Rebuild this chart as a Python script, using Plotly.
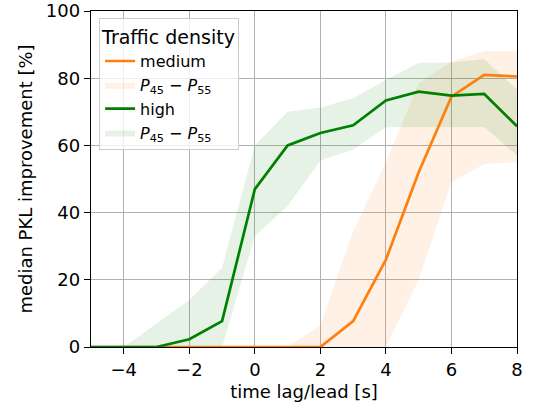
import plotly.graph_objects as go

t = [-5, -4, -3, -2, -1, 0, 1, 2, 3, 4, 5, 6, 7, 8]

medium = [0, 0, 0, 0, 0, 0, 0, 0, 7.7, 26, 52, 74.5, 81, 80.5]
medium_lo = [0, 0, 0, 0, 0, 0, 0, 0, 0, 0, 20, 49, 54.5, 55]
medium_hi = [0, 0, 0, 0, 0, 0, 0, 6.5, 34.5, 55, 78.5, 85, 88, 88]

high = [0, 0, 0, 2.3, 7.7, 47, 60, 63.7, 66, 73.4, 76, 74.8, 75.3, 65.7]
high_lo = [0, 0, 0, 0, 0, 33, 42, 55.5, 58.8, 65.4, 65.4, 65.4, 65.4, 57]
high_hi = [0, 0, 7, 14, 23.6, 60, 70, 71.3, 74, 79.5, 84.6, 84.7, 85.7, 76.6]

x_ticks = [-4, -2, 0, 2, 4, 6, 8]
x_tick_text = ["\u22124", "\u22122", "0", "2", "4", "6", "8"]
y_ticks = [0, 20, 40, 60, 80, 100]

ORANGE = "#ff7f0e"
GREEN = "#008000"
band_label = "<i>P</i><sub>45</sub> \u2212 <i>P</i><sub>55</sub>"

fig = go.Figure()

fig.add_trace(go.Scatter(x=t, y=medium_lo, mode="lines", line=dict(width=0, color=ORANGE),
                         showlegend=False, hoverinfo="skip"))
fig.add_trace(go.Scatter(x=t, y=medium_hi, mode="lines", line=dict(width=0, color=ORANGE),
                         fill="tonexty", fillcolor="rgba(255,127,14,0.11)",
                         name=band_label, legendrank=2))
fig.add_trace(go.Scatter(x=t, y=high_lo, mode="lines", line=dict(width=0, color=GREEN),
                         showlegend=False, hoverinfo="skip"))
fig.add_trace(go.Scatter(x=t, y=high_hi, mode="lines", line=dict(width=0, color=GREEN),
                         fill="tonexty", fillcolor="rgba(0,128,0,0.10)",
                         name=band_label, legendrank=4))
fig.add_trace(go.Scatter(x=t, y=medium, mode="lines", line=dict(width=2.7, color=ORANGE),
                         name="medium", legendrank=1))
fig.add_trace(go.Scatter(x=t, y=high, mode="lines", line=dict(width=2.7, color=GREEN),
                         name="high", legendrank=3))

axis_common = dict(
    showline=True, linecolor="black", linewidth=1.4, mirror=True,
    ticks="outside", ticklen=6, tickwidth=1.4, tickcolor="black",
    showgrid=True, gridcolor="#b0b0b0", gridwidth=1.4,
    zeroline=False, tickfont=dict(size=18, color="black"),
    ticklabeloverflow="allow", automargin=False,
)

fig.update_xaxes(range=[-5, 8], tickvals=x_ticks, ticktext=x_tick_text,
                 title=dict(text="time lag/lead [s]", font=dict(size=18, color="black"), standoff=6),
                 **axis_common)
fig.update_yaxes(range=[0, 100], tickvals=y_ticks,
                 title=dict(text="median PKL improvement [%]", font=dict(size=18, color="black"), standoff=8),
                 **axis_common)

fig.update_layout(
    width=536, height=410,
    margin=dict(l=91, r=19, t=11, b=63),
    paper_bgcolor="white", plot_bgcolor="white",
    font=dict(family="DejaVu Sans", size=18, color="black"),
    legend=dict(
        title=dict(text="Traffic density", font=dict(size=19)),
        x=0.019, y=0.978, xanchor="left", yanchor="top",
        bgcolor="rgba(255,255,255,0.8)", bordercolor="#cccccc", borderwidth=1,
        font=dict(size=16), traceorder="normal", tracegroupgap=0,
        itemwidth=30,
    ),
)

fig.write_html("out.html")
